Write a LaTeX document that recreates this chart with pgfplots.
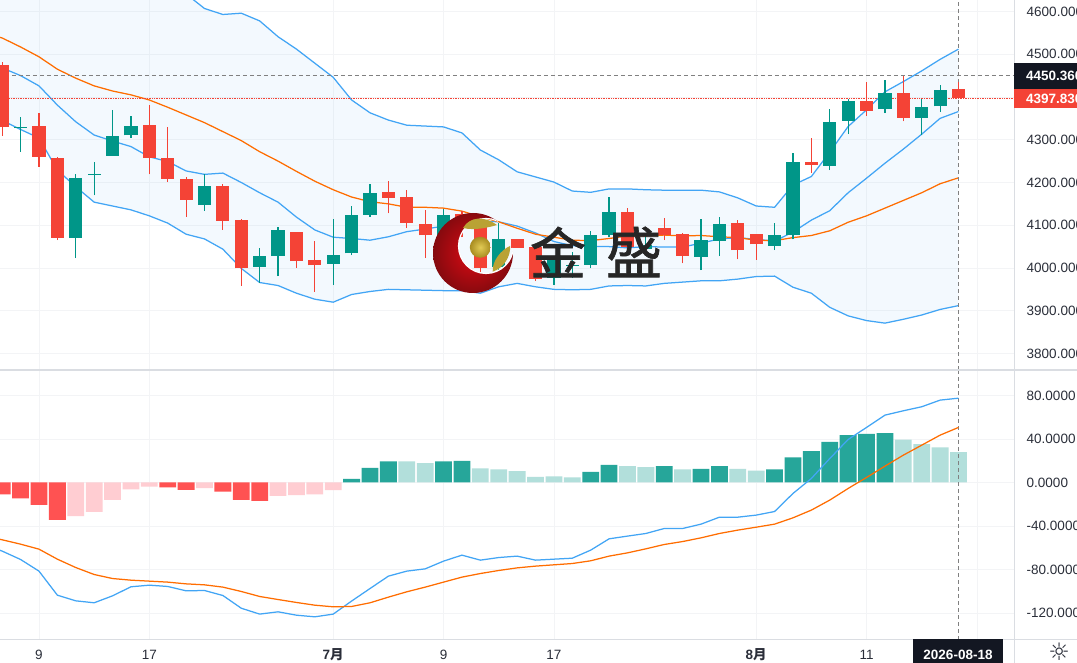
\documentclass[border=0pt]{standalone}
\usepackage{pgfplots}
\pgfplotsset{compat=1.18}
\usepackage{pgfplotstable}
\usepackage{fontspec}
\setmainfont{Liberation Sans}
\newfontfamily\cjk{Noto Sans CJK SC}
\newfontfamily\cjkheavy[FakeBold=1.2]{Noto Sans CJK SC}
\newfontfamily\dejavu{DejaVu Sans}
\definecolor{cred}{HTML}{F44336}
\definecolor{cgreen}{HTML}{009688}
\definecolor{bblue}{HTML}{42A5F5}
\definecolor{borange}{HTML}{FF6D00}
\definecolor{hdred}{HTML}{FF5252}
\definecolor{hlred}{HTML}{FFCDD2}
\definecolor{hdgreen}{HTML}{26A69A}
\definecolor{hlgreen}{HTML}{B2DFDB}
\definecolor{gridc}{HTML}{F3F4F6}
\definecolor{sepc}{HTML}{DADDE2}
\definecolor{txtc}{HTML}{2A2E39}
\definecolor{darkbox}{HTML}{131722}
\definecolor{fillc}{HTML}{2196F3}
\definecolor{goldl}{HTML}{E2CB55}
\definecolor{goldd}{HTML}{A88C20}
\definecolor{leafc}{HTML}{B9A234}
\definecolor{crimsonl}{HTML}{DC0A14}
\definecolor{crimsond}{HTML}{7E0A0E}

\pgfplotstableread{
i open high low close
0 4475 4482 4309 4329
2 4331 4363 4237 4260
3 4258 4259 4065 4071
8 4335 4381 4219 4257
9 4258 4330 4202 4209
10 4208 4214 4120 4160
12 4192 4196 4090 4110
13 4112 4114 3958 3999
16 4084 4084 4000 4016
17 4019 4063 3945 4006
21 4178 4204 4128 4164
22 4166 4182 4093 4106
23 4102 4136 4023 4076
25 4126 4134 4072 4103
26 4098 4117 3991 4001
28 4067 4067 4047 4047
29 4048 4050 3970 3975
34 4131 4140 4042 4049
36 4093 4117 4065 4076
37 4080 4083 4011 4029
40 4105 4112 4020 4042
41 4080 4080 4019 4055
44 4249 4305 4223 4241
47 4391 4436 4356 4368
49 4409 4450 4343 4351
52 4418 4436 4398 4398
}\redc
\pgfplotstableread{
i open high low close
1 4327 4354 4272 4330
4 4071 4220 4023 4210
5 4217 4247 4170 4220
6 4263 4370 4263 4309
7 4310 4356 4305 4331
11 4147 4220 4134 4192
14 4003 4046 3966 4028
15 4028 4096 3981 4090
18 4010 4115 3960 4031
19 4034 4145 4030 4124
20 4124 4196 4120 4175
24 4054 4138 4030 4124
27 4003 4105 3991 4067
30 3977 4025 3960 4019
31 4005 4038 3976 4007
32 4008 4087 3999 4077
33 4077 4167 4072 4131
35 4044 4075 4042 4054
38 4026 4115 3995 4065
39 4064 4120 4028 4103
42 4052 4105 4042 4077
43 4077 4268 4067 4247
45 4239 4371 4229 4342
46 4345 4395 4313 4391
48 4371 4440 4362 4409
50 4352 4396 4311 4376
51 4378 4428 4365 4416
}\greenc
\pgfplotstableread{
i up mid ma lo
-1 4920 4482 4550 4358
0 4900 4468 4538 4345
1 4880 4450 4517 4324
2 4860 4426 4494 4304
3 4840 4381 4465 4229
4 4820 4342 4444 4190
5 4790 4311 4426 4154
6 4770 4297 4414 4145
7 4750 4284 4405 4136
8 4720 4260 4393 4122
9 4680 4249 4376 4105
10 4641 4227 4358 4079
11 4607 4219 4340 4068
12 4593 4222 4319 4044
13 4596 4200 4298 3999
14 4578 4176 4272 3966
15 4541 4154 4250 3959
16 4512 4119 4226 3941
17 4479 4089 4203 3927
18 4446 4072 4183 3920
19 4393 4069 4166 3938
20 4363 4065 4155 3945
21 4346 4073 4150 3950
22 4334 4085 4142 3949
23 4332 4091 4142 3948
24 4330 4098 4140 3947
25 4316 4108 4133 3947
26 4276 4110 4120 3941
27 4253 4108 4108 3956
28 4225 4098 4093 3964
29 4213 4082 4079 3956
30 4201 4062 4072 3950
31 4180 4052 4065 3949
32 4177 4050 4064 3950
33 4185 4050 4069 3958
34 4185 4047 4075 3959
35 4183 4050 4075 3958
36 4182 4049 4077 3964
37 4182 4049 4075 3967
38 4182 4058 4076 3970
39 4178 4068 4073 3970
40 4164 4071 4071 3974
41 4145 4067 4065 3980
42 4142 4063 4064 3981
43 4194 4084 4071 3955
44 4214 4112 4076 3941
45 4271 4134 4087 3908
46 4331 4176 4107 3888
47 4370 4210 4122 3877
48 4412 4245 4140 3871
49 4436 4278 4158 3880
50 4461 4313 4176 3890
51 4488 4350 4197 3903
52 4512 4366 4211 3912
}\bands
\pgfplotstableread{
i y
-1 4920
0 4900
1 4880
2 4860
3 4840
4 4820
5 4790
6 4770
7 4750
8 4720
9 4680
10 4641
11 4607
12 4593
13 4596
14 4578
15 4541
16 4512
17 4479
18 4446
19 4393
20 4363
21 4346
22 4334
23 4332
24 4330
25 4316
26 4276
27 4253
28 4225
29 4213
30 4201
31 4180
32 4177
33 4185
34 4185
35 4183
36 4182
37 4182
38 4182
39 4178
40 4164
41 4145
42 4142
43 4194
44 4214
45 4271
46 4331
47 4370
48 4412
49 4436
50 4461
51 4488
52 4512
52 3912
51 3903
50 3890
49 3880
48 3871
47 3877
46 3888
45 3908
44 3941
43 3955
42 3981
41 3980
40 3974
39 3970
38 3970
37 3967
36 3964
35 3958
34 3959
33 3958
32 3950
31 3949
30 3950
29 3956
28 3964
27 3956
26 3941
25 3947
24 3947
23 3948
22 3949
21 3950
20 3945
19 3938
18 3920
17 3927
16 3941
15 3959
14 3966
13 3999
12 4044
11 4068
10 4079
9 4105
8 4122
7 4136
6 4145
5 4154
4 4190
3 4229
2 4304
1 4324
0 4345
-1 4358
}\bandarea
\pgfplotstableread{
i dif dea
-1 -57 -49
0 -63.1 -52.7
1 -70.8 -56.7
2 -81.5 -61.3
3 -103.6 -70.5
4 -108.8 -78.2
5 -110.6 -84.6
6 -104.2 -88.3
7 -95.9 -89.8
8 -94.4 -90.7
9 -95.6 -91.6
10 -99.6 -93.2
11 -99.3 -94.1
12 -103.9 -96.2
13 -115.6 -100.2
14 -121 -104.8
15 -118.9 -107.6
16 -122 -110.3
17 -123.5 -112.8
18 -121 -114.3
19 -109 -114
20 -97.5 -110.6
21 -86.1 -105.4
22 -81.5 -100.5
23 -79.4 -96.2
24 -72.3 -91.6
25 -66.8 -87
26 -71.4 -83.7
27 -69 -80.9
28 -67.7 -78.5
29 -71.4 -76.9
30 -70.5 -75.7
31 -69.6 -74.5
32 -62.2 -72
33 -51.8 -67.7
34 -49.3 -64.7
35 -46.9 -61
36 -42.3 -57
37 -42.3 -54.3
38 -38.3 -50.9
39 -31.9 -46.9
40 -31.9 -43.8
41 -30 -41.1
42 -26.7 -38.3
43 -10.1 -32.5
44 3.7 -25.4
45 22 -16.2
46 39.5 -5.5
47 50.6 4.6
48 61.9 15
49 65.9 25.1
50 69.6 34.3
51 75.7 43.5
52 77.5 50.6
}\macd

\pgfplotsset{
  paneaxis/.style={
    scale only axis, width=1014pt, anchor=south west,
    xmin=-0.12, xmax=55.02,
    axis line style={draw=none},
    major tick length=0pt,
    xtick={2,8,18,24,30,41,47,53},
    grid=major, grid style={gridc, line width=0.7pt},
    yticklabel pos=right,
    yticklabel style={anchor=west, inner sep=0pt, xshift=12.5pt, font=\fontsize{13.5}{13.5}\selectfont, text=txtc},
    xticklabel style={font=\fontsize{13.5}{13.5}\selectfont, text=txtc, inner sep=0pt, anchor=center, yshift=-15pt},
    clip=true,
  },
  wick/.style={draw=none, mark=none, forget plot,
    error bars/.cd, y dir=plus, y explicit, error mark=none,
    error bar style={draw=#1, line width=1.2pt, line cap=butt, solid}},
  candlebody/.style={draw=none, mark=none, forget plot,
    error bars/.cd, y dir=plus, y explicit, error mark=none,
    error bar style={draw=#1, line width=13.2pt, line cap=butt, solid}},
}

\begin{document}
\begin{tikzpicture}
\fill[white] (0pt,0pt) rectangle (1077pt,663pt);

\begin{axis}[paneaxis, at={(0pt,293pt)}, height=370pt,
  ymin=3761.4, ymax=4626.9,
  xticklabels={},
  ytick={3800,3900,4000,4100,4200,4300,4400,4500,4600},
  yticklabels={3800.0000,3900.0000,4000.0000,4100.0000,4200.0000,4300.0000,,4500.0000,4600.0000},
]
\addplot[fill=fillc, fill opacity=0.05, draw=none, forget plot] table[x=i,y=y] {\bandarea} -- cycle;
\addplot[bblue, line width=1.25pt, forget plot] table[x=i,y=up] {\bands};
\addplot[bblue, line width=1.25pt, forget plot] table[x=i,y=lo] {\bands};
\addplot[bblue, line width=1.25pt, forget plot] table[x=i,y=mid] {\bands};
\addplot[borange, line width=1.25pt, forget plot] table[x=i,y=ma] {\bands};
\addplot[cred, densely dotted, line width=0.7pt, forget plot] coordinates {(-1,4397.83) (56,4397.83)};
\addplot[gray, dash pattern=on 4pt off 3pt, line width=0.7pt, forget plot] coordinates {(-1,4450.36) (56,4450.36)};
\addplot[gray, dash pattern=on 4pt off 3pt, line width=0.7pt, forget plot] coordinates {(52,3761.4) (52,4626.9)};
\addplot[wick=cred] table[x=i, y=low, y error plus expr=\thisrow{high}-\thisrow{low}] {\redc};
\addplot[wick=cgreen] table[x=i, y=low, y error plus expr=\thisrow{high}-\thisrow{low}] {\greenc};
\addplot[candlebody=cred] table[x=i, y=close, y error plus expr=\thisrow{open}-\thisrow{close}] {\redc};
\addplot[candlebody=cgreen] table[x=i, y=open, y error plus expr=\thisrow{close}-\thisrow{open}] {\greenc};
\end{axis}

\begin{axis}[paneaxis, at={(0pt,23pt)}, height=270pt,
  ymin=-144.8, ymax=103.4,
  xticklabels={9,17,{\textbf{7}{\cjk\bfseries 月}},9,17,{\textbf{8}{\cjk\bfseries 月}},11,},
  ytick={-120,-80,-40,0,40,80},
  yticklabels={-120.0000,-80.0000,-40.0000,0.0000,40.0000,80.0000},
]
\addplot[ybar, bar width=16.8pt, bar shift=0pt, fill=hdred, draw=none, forget plot] coordinates {
(0,-11)(1,-14.7)(2,-20.5)(3,-34.3)(9,-4.6)(10,-6.7)(12,-8.3)(13,-16)(14,-16.9)};
\addplot[ybar, bar width=16.8pt, bar shift=0pt, fill=hlred, draw=none, forget plot] coordinates {
(4,-31)(5,-27)(6,-16)(7,-6.4)(8,-3.7)(11,-5.2)(15,-12.3)(16,-11.6)(17,-11)(18,-7)};
\addplot[ybar, bar width=16.8pt, bar shift=0pt, fill=hdgreen, draw=none, forget plot] coordinates {
(19,3.4)(20,13.5)(21,19.3)(24,19.3)(25,19.9)(32,9.8)(33,16.2)(36,15)(38,12.6)(39,15)(42,12)(43,23)(44,28.8)(45,37.4)(46,43.5)(47,44.7)(48,45.4)};
\addplot[ybar, bar width=16.8pt, bar shift=0pt, fill=hlgreen, draw=none, forget plot] coordinates {
(22,19.3)(23,17.8)(26,12.9)(27,12)(28,10.4)(29,5.2)(30,5.5)(31,4.6)(34,15)(35,14.1)(37,12)(40,12.6)(41,11)(49,39.5)(50,35.2)(51,32.2)(52,27.9)};
\addplot[gray, dash pattern=on 4pt off 3pt, line width=0.7pt, forget plot] coordinates {(52,-144.8) (52,103.4)};
\addplot[bblue, line width=1.25pt, forget plot] table[x=i,y=dif] {\macd};
\addplot[borange, line width=1.25pt, forget plot] table[x=i,y=dea] {\macd};
\end{axis}

\begin{scope}[x=1pt,y=1pt]
% pane separators
\draw[sepc, line width=1.6pt] (0,293) -- (1077,293);
\draw[sepc, line width=1pt] (0,23) -- (1077,23);
\draw[sepc, line width=1pt] (1014,0) -- (1014,663);

% price and date flags
\fill[cred] (1014,554.5) rectangle (1077,574);
\fill[darkbox] (1014,574) rectangle (1077,599.7);
\node[anchor=west, inner sep=0pt, text=white, font=\fontsize{13.5}{13.5}\selectfont\bfseries] at (1026,587.2) {4450.3600};
\node[anchor=west, inner sep=0pt, text=white, font=\fontsize{13.5}{13.5}\selectfont\bfseries] at (1026,564.6) {4397.8300};
\fill[darkbox] (913,0) rectangle (1003,24);
\node[inner sep=0pt, text=white, font=\fontsize{13.5}{13.5}\selectfont\bfseries] at (958,8) {2026-08-18};
\node[inner sep=0pt, text=txtc, font=\fontsize{24}{24}\selectfont\dejavu] at (1059,11) {☼};

% watermark logo
\begin{scope}
\clip (473,410) circle (40);
\shade[even odd rule, inner color=crimsonl, outer color=crimsond]
  (430,365) rectangle (516,455) (486,417) circle (27.5);
\draw[white, line width=1.2pt] (486,417) circle (27.5);
\end{scope}
\shade[inner color=goldl, outer color=goldd] (480.3,415.7) circle (10.5);
\fill[leafc] (463,435) .. controls (470,447) and (485,447) .. (497,438) .. controls (490,436) and (475,432) .. (463,435) -- cycle;
\fill[leafc] (492.7,391.3) .. controls (492,402) and (501,413) .. (510,417) .. controls (511,407) and (504,395) .. (492.7,391.3) -- cycle;
\node[anchor=center, inner sep=0pt, text=black!85, font=\fontsize{56}{56}\selectfont\cjkheavy] at (558,411) {金};
\node[anchor=center, inner sep=0pt, text=black!85, font=\fontsize{56}{56}\selectfont\cjkheavy] at (634,411) {盛};
\end{scope}

\pgfresetboundingbox
\path[use as bounding box] (0pt,0pt) rectangle (1077pt,663pt);
\end{tikzpicture}
\end{document}
